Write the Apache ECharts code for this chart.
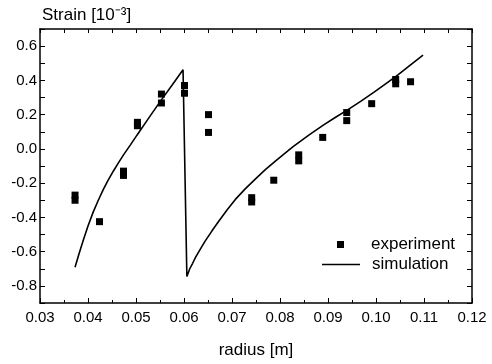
<!DOCTYPE html>
<html><head><meta charset="utf-8">
<script src="https://cdn.jsdelivr.net/npm/echarts@6/dist/echarts.min.js"></script>
<style>html,body{margin:0;padding:0;background:#fff}#c{width:492px;height:364px}</style>
</head><body><div id="c"></div>
<script>
// experiment data
var expX = [0.0373,0.0373,0.0424,0.0474,0.0474,0.0503,0.0503,0.0553,0.0553,0.0601,0.0601,0.0651,0.0651,0.0741,0.0741,0.0787,0.0839,0.0839,0.0889,0.0939,0.0939,0.0991,0.1041,0.1041,0.1072];
var expY = [-0.27,-0.30,-0.425,-0.13,-0.155,0.155,0.135,0.32,0.268,0.37,0.325,0.20,0.096,-0.285,-0.31,-0.183,-0.035,-0.07,0.067,0.212,0.165,0.264,0.405,0.38,0.392];
// simulation curve
var simX = [0.0373,0.0381,0.0390,0.0400,0.0411,0.0421,0.0432,0.0442,0.0453,0.0463,0.0474,0.0488,0.0502,0.0526,0.0551,0.0575,0.0598,
            0.0606,0.0612,0.0618,0.0624,0.0634,0.0644,0.0658,0.0672,0.0690,0.0707,0.0728,0.0749,0.0770,0.0791,0.0810,0.0828,0.0860,0.0891,0.0915,0.0940,0.0968,0.0996,0.1020,0.1045,0.1072,0.1098];
var simY = [-0.691,-0.615,-0.535,-0.450,-0.368,-0.303,-0.237,-0.183,-0.129,-0.083,-0.035,0.022,0.080,0.178,0.279,0.372,0.462,
            -0.745,-0.700,-0.668,-0.634,-0.585,-0.539,-0.480,-0.424,-0.355,-0.295,-0.232,-0.175,-0.120,-0.070,-0.026,0.014,0.080,0.140,0.183,0.226,0.277,0.331,0.380,0.430,0.490,0.547];
var seriesNames = ['experiment','simulation'];
var xName = 'radius [m]';
var yName = 'Strain [10\u207B\u00B3]';

var FONT = '"Liberation Sans", Arial, sans-serif';
var chart = echarts.init(document.getElementById('c'), null, {renderer:'canvas'});
function pairs(a,b){return a.map(function(v,i){return [v,b[i]];});}
var legendText = {fontFamily:FONT,fontSize:17,color:'#000'};
chart.setOption({
  animation:false,
  backgroundColor:'#fff',
  grid:{left:40,right:20,top:29,bottom:53,containLabel:false},
  legend:[{
    orient:'vertical', left:332, top:231, itemWidth:7, itemHeight:7,
    textStyle:Object.assign({padding:[0,0,0,22]},legendText),
    itemStyle:{opacity:1},
    data:[{name:seriesNames[0],icon:'rect'}]
  },{
    orient:'vertical', left:317, top:251, itemWidth:38, itemHeight:1.5,
    textStyle:Object.assign({padding:[0,0,0,7]},legendText),
    data:[{name:seriesNames[1],icon:'rect'}]
  }],
  xAxis:[{
    type:'value', min:0.03, max:0.12, interval:0.01, position:'bottom',
    axisLine:{show:true,onZero:false,lineStyle:{color:'#000',width:1.5}},
    axisTick:{show:true,inside:true,length:5,lineStyle:{color:'#000'}},
    minorTick:{show:true,splitNumber:2,length:3,lineStyle:{color:'#000'}},
    axisLabel:{color:'#000',fontFamily:FONT,fontSize:15,margin:7,formatter:function(v){return v.toFixed(2);}},
    splitLine:{show:false},
    name:xName, nameLocation:'middle', nameGap:39,
    nameTextStyle:{color:'#000',fontFamily:FONT,fontSize:17}
  },{
    type:'value', min:0.03, max:0.12, interval:0.01, position:'top',
    axisLine:{show:true,onZero:false,lineStyle:{color:'#000',width:1.5}},
    axisTick:{show:true,inside:true,length:4,lineStyle:{color:'#000'}},
    minorTick:{show:true,splitNumber:2,length:4,lineStyle:{color:'#000'}},
    axisLabel:{show:false}, splitLine:{show:false}
  }],
  yAxis:[{
    type:'value', min:-0.9, max:0.7, interval:0.1, position:'left',
    axisLine:{show:true,onZero:false,lineStyle:{color:'#000',width:1.5}},
    axisTick:{show:true,inside:true,length:5,lineStyle:{color:'#000'}},
    axisLabel:{color:'#000',fontFamily:FONT,fontSize:15,margin:3,
      formatter:function(v){var k=Math.round(v*10);return (Math.abs(k)%2===0)?(k/10).toFixed(1):'';}},
    splitLine:{show:false},
    name:yName, nameLocation:'end', nameGap:5,
    nameTextStyle:{color:'#000',fontFamily:FONT,fontSize:17,align:'left',padding:[0,0,0,2]}
  },{
    type:'value', min:-0.9, max:0.7, interval:0.1, position:'right',
    axisLine:{show:true,onZero:false,lineStyle:{color:'#000',width:1.5}},
    axisTick:{show:true,inside:true,length:5,lineStyle:{color:'#000'}},
    axisLabel:{show:false}, splitLine:{show:false}
  }],
  series:[{
    name:seriesNames[0], type:'scatter', symbol:'rect', symbolSize:[7,7],
    itemStyle:{color:'#000',opacity:1}, data:pairs(expX,expY), z:3
  },{
    name:seriesNames[1], type:'line', symbol:'none', showSymbol:false, smooth:false,
    lineStyle:{color:'#000',width:1.6}, itemStyle:{color:'#000'},
    data:pairs(simX,simY), z:2
  }]
});
</script></body></html>
